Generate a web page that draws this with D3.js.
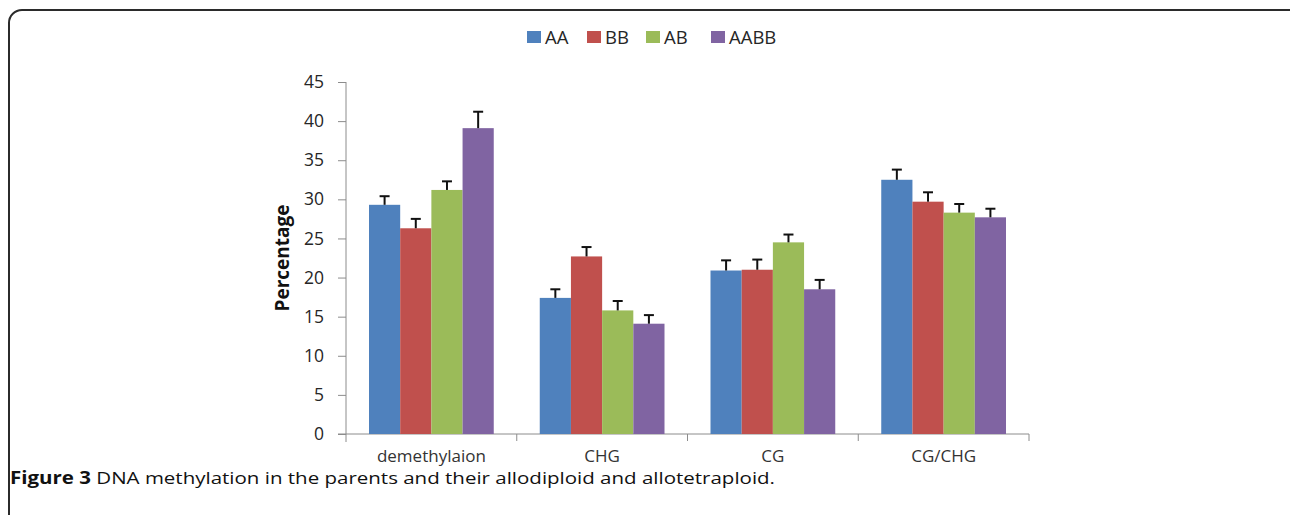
<!DOCTYPE html>
<html>
<head>
<meta charset="utf-8">
<script src="https://cdn.jsdelivr.net/npm/d3@7/dist/d3.min.js"></script>
<style>
  html, body { margin: 0; padding: 0; background: #fff; }
  svg { display: block; }
</style>
</head>
<body>
<svg id="chart" width="1290" height="515"></svg>
<script>
// ---- data ----
const categories = ["demethylaion", "CHG", "CG", "CG/CHG"];
const seriesNames = ["AA", "BB", "AB", "AABB"];
const seriesColors = ["#4F81BD", "#C0504D", "#9BBB59", "#8064A2"];
const valuesAA   = [29.3, 17.4, 20.9, 32.5];
const valuesBB   = [26.3, 22.7, 21.0, 29.7];
const valuesAB   = [31.2, 15.8, 24.5, 28.3];
const valuesAABB = [39.1, 14.1, 18.5, 27.7];
const errorsAA   = [1.1, 1.1, 1.3, 1.3];
const errorsBB   = [1.2, 1.2, 1.3, 1.2];
const errorsAB   = [1.1, 1.2, 1.0, 1.1];
const errorsAABB = [2.1, 1.1, 1.2, 1.1];
const yTicks = [0, 5, 10, 15, 20, 25, 30, 35, 40, 45];
const yTitle = "Percentage";
const captionBold = "Figure 3";
const captionText = " DNA methylation in the parents and their allodiploid and allotetraploid.";

const seriesValues = [valuesAA, valuesBB, valuesAB, valuesAABB];
const seriesErrors = [errorsAA, errorsBB, errorsAB, errorsAABB];

// ---- layout ----
const svg = d3.select("#chart");
const plotLeft = 346, plotRight = 1029, plotTop = 82, plotBottom = 434;
const font = "'Open Sans', 'DejaVu Sans', sans-serif";

// frame
svg.append("rect")
  .attr("x", 9).attr("y", 10)
  .attr("width", 1300).attr("height", 560)
  .attr("rx", 13).attr("ry", 13)
  .attr("fill", "none").attr("stroke", "#2b2b2b").attr("stroke-width", 2);

const x0 = d3.scaleBand().domain(categories).range([plotLeft, plotRight]).paddingInner(0).paddingOuter(0);
const groupPad = 23;
const x1 = d3.scaleBand().domain(seriesNames).range([groupPad, x0.bandwidth() - groupPad]).padding(0);
const y = d3.scaleLinear().domain([0, 45]).range([plotBottom, plotTop]);
const color = d3.scaleOrdinal().domain(seriesNames).range(seriesColors);

// y axis
const yAxis = svg.append("g")
  .attr("transform", `translate(${plotLeft},0)`)
  .call(d3.axisLeft(y).tickValues(yTicks).tickSize(8).tickPadding(14));
yAxis.select(".domain").attr("stroke", "#8c8c8c").attr("stroke-width", 1)
  .attr("d", `M0,${plotTop}V${plotBottom + 8}`);
yAxis.selectAll(".tick line").attr("stroke", "#8c8c8c");
yAxis.selectAll(".tick text")
  .attr("fill", "#262626")
  .style("font-family", font).style("font-size", "17.5px");

// x axis
const xAxis = svg.append("g")
  .attr("transform", `translate(0,${plotBottom})`)
  .call(d3.axisBottom(x0).tickSize(0).tickPadding(16));
xAxis.select(".domain").attr("stroke", "#8c8c8c").attr("stroke-width", 1)
  .attr("d", `M${plotLeft - 8},0H${plotRight}`);
xAxis.selectAll(".tick text")
  .attr("fill", "#333")
  .style("font-family", font).style("font-size", "17px");
// category boundary ticks
const boundaries = categories.map(c => x0(c)).concat([x0(categories[categories.length - 1]) + x0.bandwidth()]);
svg.append("g").selectAll("line").data(boundaries.slice(1)).join("line")
  .attr("x1", d => d).attr("x2", d => d)
  .attr("y1", plotBottom).attr("y2", plotBottom + 7)
  .attr("stroke", "#8c8c8c").attr("stroke-width", 1);

// bars
const flat = [];
categories.forEach((c, ci) => {
  seriesNames.forEach((s, si) => {
    flat.push({ cat: c, series: s, value: seriesValues[si][ci], err: seriesErrors[si][ci] });
  });
});

const barG = svg.append("g");
barG.selectAll("rect").data(flat).join("rect")
  .attr("x", d => x0(d.cat) + x1(d.series))
  .attr("y", d => y(d.value))
  .attr("width", x1.bandwidth())
  .attr("height", d => y(0) - y(d.value))
  .attr("fill", d => color(d.series));

// error bars
const errG = svg.append("g").attr("stroke", "#111").attr("stroke-width", 2);
errG.selectAll("line.v").data(flat).join("line").attr("class", "v")
  .attr("x1", d => x0(d.cat) + x1(d.series) + x1.bandwidth() / 2)
  .attr("x2", d => x0(d.cat) + x1(d.series) + x1.bandwidth() / 2)
  .attr("y1", d => y(d.value))
  .attr("y2", d => y(d.value + d.err));
errG.selectAll("line.c").data(flat).join("line").attr("class", "c")
  .attr("x1", d => x0(d.cat) + x1(d.series) + x1.bandwidth() / 2 - 5)
  .attr("x2", d => x0(d.cat) + x1(d.series) + x1.bandwidth() / 2 + 5)
  .attr("y1", d => y(d.value + d.err))
  .attr("y2", d => y(d.value + d.err));

// y title
svg.append("text")
  .attr("transform", `translate(289,258) rotate(-90)`)
  .attr("text-anchor", "middle")
  .attr("fill", "#111")
  .style("font-family", font).style("font-size", "19px").style("font-weight", "bold")
  .text(yTitle);

// legend
const legendX = [527, 587, 646, 711];
const legend = svg.append("g");
seriesNames.forEach((s, i) => {
  legend.append("rect")
    .attr("x", legendX[i]).attr("y", 31).attr("width", 14).attr("height", 12)
    .attr("fill", color(s));
  legend.append("text")
    .attr("x", legendX[i] + 18).attr("y", 44)
    .attr("fill", "#262626")
    .style("font-family", font).style("font-size", "18.5px")
    .text(s);
});

// caption
const cap = svg.append("text")
  .attr("x", 10).attr("y", 484)
  .attr("fill", "#111")
  .style("font-family", font).style("font-size", "17px");
cap.append("tspan").style("font-weight", "bold").text(captionBold);
cap.append("tspan").text(captionText);
cap.attr("textLength", 765).attr("lengthAdjust", "spacingAndGlyphs");
</script>
</body>
</html>
